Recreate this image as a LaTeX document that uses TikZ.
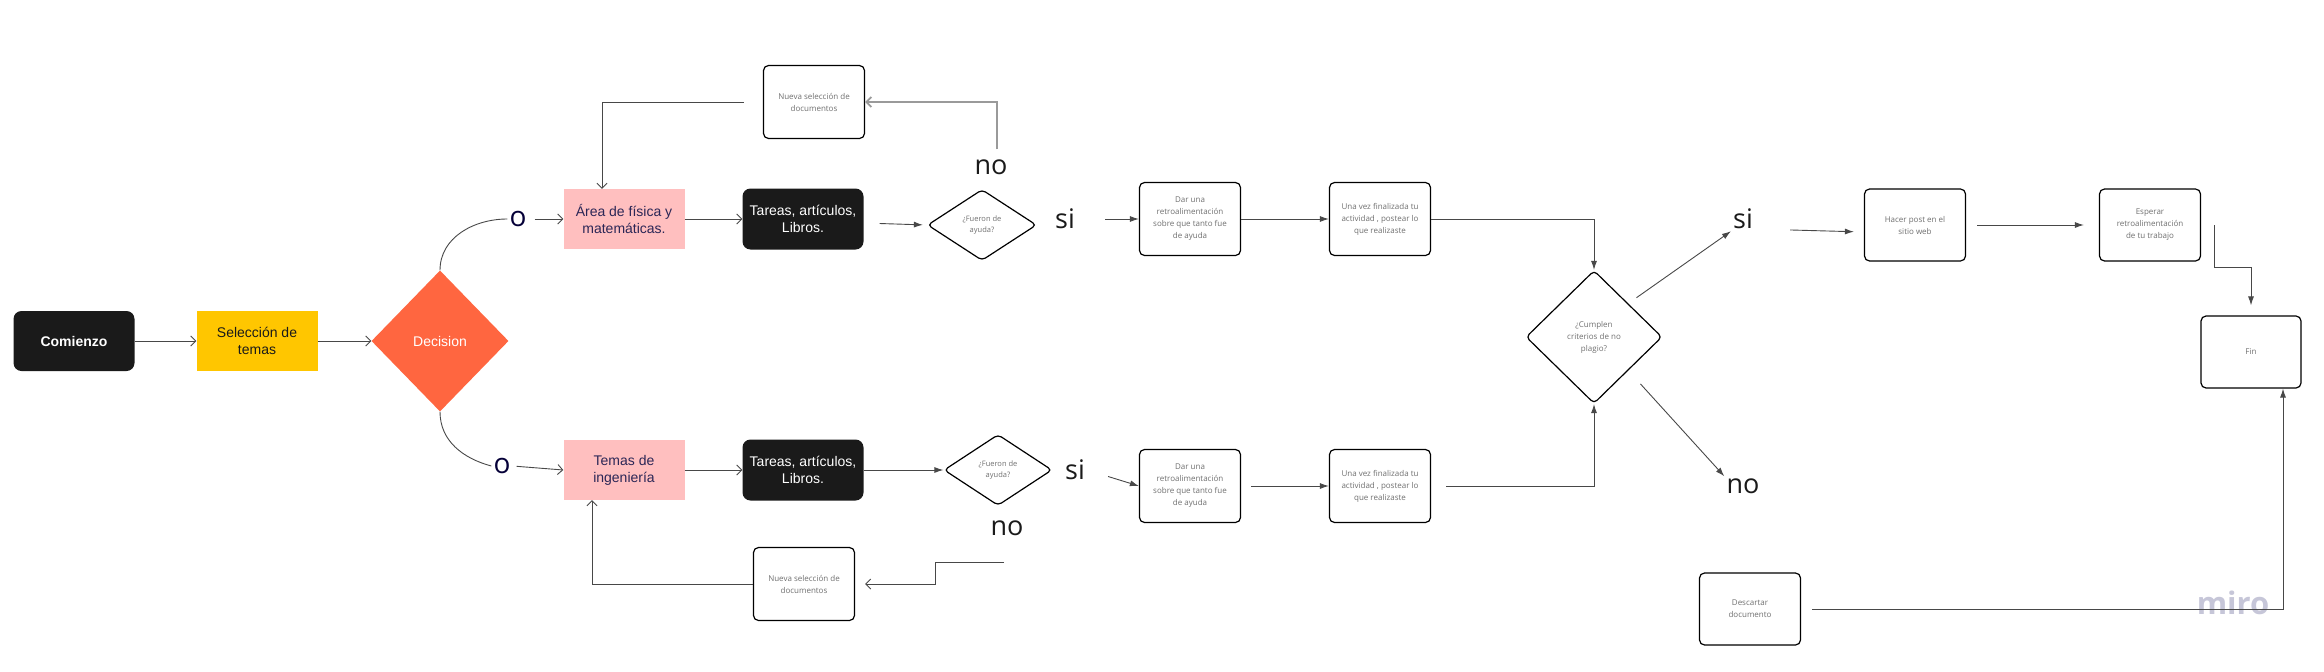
\documentclass[tikz,border=0pt]{standalone}
\usepackage{fontspec}
\setmainfont{Liberation Sans}
\newfontfamily\opensans{Open Sans}
\usetikzlibrary{shapes.geometric, arrows.meta, positioning}

\definecolor{ink}{HTML}{1A1A1A}
\definecolor{amber}{HTML}{FFC600}
\definecolor{coral}{HTML}{FF6640}
\definecolor{rose}{HTML}{FFBFBF}
\definecolor{navy}{HTML}{050038}
\definecolor{wire}{HTML}{484848}
\definecolor{faint}{HTML}{707070}
\definecolor{greyline}{HTML}{9A9A9A}
\definecolor{mirogray}{HTML}{C6C6D8}

\tikzset{
  darkbox/.style={fill=ink, rounded corners=8pt, text=white, minimum width=121pt, minimum height=60pt, align=center, font=\fontsize{14}{17}\selectfont},
  flatbox/.style={minimum width=121pt, minimum height=60pt, align=center, font=\fontsize{14}{17}\selectfont},
  notebox/.style={draw=black, line width=1.2pt, rounded corners=5pt, fill=white, minimum width=101pt, minimum height=73pt, align=center, text=faint, font=\opensans\fontsize{8}{12}\selectfont},
  askbox/.style={diamond, draw=black, line width=1.2pt, rounded corners=4pt, inner sep=0pt, align=center, text=faint, font=\opensans\fontsize{7.5}{11}\selectfont},
  bigword/.style={font=\opensans\fontsize{27}{30}\selectfont, text=ink, inner sep=2pt},
  orword/.style={font=\opensans\fontsize{28}{30}\selectfont, text=navy, inner sep=2pt},
  opentip/.style={draw=wire, line width=0.9pt, -{Straight Barb[length=5pt,width=10pt]}},
  arr/.style={draw=wire, line width=0.9pt, -{Latex[length=9pt,width=6pt]}},
  bare/.style={draw=wire, line width=0.9pt},
}

\begin{document}
\begin{tikzpicture}[x=1pt, y=-1pt]
  \useasboundingbox (0,0) rectangle (2324,672);

  % start and choice
  \node[darkbox, font=\bfseries\fontsize{14}{17}\selectfont] (com) at (74,341) {Comienzo};
  \node[flatbox, fill=amber, text=ink] (sel) at (257,341) {Selección de\\temas};
  \node[diamond, fill=coral, text=white, inner sep=0pt, minimum width=137pt, minimum height=141pt, font=\fontsize{14}{17}\selectfont] (dec) at (440,341) {Decision};

  \node[orword] (oA) at (518,219) {o};
  \node[orword] (oB) at (502,466) {o};
  \node[flatbox, fill=rose, text=navy!85] (area) at (624,219) {Área de física y\\matemáticas.};
  \node[flatbox, fill=rose, text=navy!85] (tem) at (624,470) {Temas de\\ingeniería};
  \node[darkbox, minimum height=61pt] (tarA) at (803,219) {Tareas, artículos,\\Libros.};
  \node[darkbox, minimum height=61pt] (tarB) at (803,470) {Tareas, artículos,\\Libros.};

  % questions
  \node[askbox, minimum width=109pt, minimum height=71pt] (ayA) at (982,225) {¿Fueron de\\ayuda?};
  \node[askbox, minimum width=108pt, minimum height=71pt] (ayB) at (998,470) {¿Fueron de\\ayuda?};
  \node[bigword] (noA) at (991,167) {no};
  \node[bigword] (siA) at (1065,219) {si};
  \node[bigword] (siB) at (1075,470) {si};
  \node[bigword] (noB) at (1007,528) {no};
  \node[notebox] (nueA) at (814,102) {Nueva selección de\\documentos};
  \node[notebox] (nueB) at (804,584) {Nueva selección de\\documentos};
  \coordinate (nb) at (1004,562);

  % feedback
  \node[notebox] (darA) at (1190,219) {Dar una\\retroalimentación\\sobre que tanto fue\\de ayuda};
  \node[notebox] (darB) at (1190,486) {Dar una\\retroalimentación\\sobre que tanto fue\\de ayuda};
  \node[notebox] (unaA) at (1380,219) {Una vez finalizada tu\\actividad , postear lo\\que realizaste};
  \node[notebox] (unaB) at (1380,486) {Una vez finalizada tu\\actividad , postear lo\\que realizaste};

  % plagiarism check
  \node[askbox, minimum width=136pt, minimum height=133pt, font=\opensans\fontsize{8}{12}\selectfont] (pla) at (1594,337) {¿Cumplen\\criterios de no\\plagio?};
  \node[bigword] (siC) at (1743,219) {si};
  \node[bigword] (noC) at (1743,486) {no};
  \node[notebox, minimum height=72pt] (post) at (1915,225) {Hacer post en el\\sitio web};
  \node[notebox, minimum height=72pt] (esp) at (2150,225) {Esperar\\retroalimentación\\de tu trabajo};
  \node[notebox, minimum width=100pt, minimum height=72pt] (fin) at (2251,352) {Fin};
  \node[notebox, minimum height=72pt] (des) at (1750,609) {Descartar\\documento};
  \node[font=\opensans\bfseries\fontsize{31}{31}\selectfont, text=mirogray] (wm) at (2233,603) {miro};

  % connectors
  \draw[opentip] (com) -- (sel);
  \draw[opentip] (sel) -- (dec);
  \draw[bare] (dec.north) to[out=90, in=180] (oA.west);
  \draw[bare] (dec.south) to[out=-90, in=165] (oB.west);
  \draw[opentip, shorten <=6pt] (oA.east) -- (area.west);
  \draw[opentip, shorten <=4pt] (oB.east) -- (tem.west);
  \draw[opentip] (area) -- (tarA);
  \draw[opentip] (tem) -- (tarB);
  \draw[arr, shorten <=16pt, shorten >=4pt] ([yshift=-4pt]tarA.east) -- (ayA.west);
  \draw[arr] (tarB.east) -- (ayB.west);
  \draw[opentip, draw=greyline, line width=1.8pt, shorten <=8pt] ([xshift=6pt]noA.north) |- (nueA.east);
  \draw[opentip, shorten <=19pt] (nueA.west) -| ([xshift=-22pt]area.north);
  \draw[opentip] (nb) -- ++(-69,0) |- ([xshift=10pt]nueB.east);
  \draw[opentip] (nueB.west) -| ([xshift=-32pt]tem.south);
  \draw[arr, shorten <=28pt] (siA.east) -- (darA.west);
  \draw[arr, shorten <=22pt] (siB.east) -- (darB.west);
  \draw[arr] (darA) -- (unaA);
  \draw[arr, shorten <=10pt] (darB.east) -- (unaB.west);
  \draw[arr] (unaA.east) -| (pla.north);
  \draw[arr, shorten <=15pt] (unaB.east) -| (pla.south);
  \draw[arr, shorten <=10pt] (pla.north east) -- (siC.south west);
  \draw[arr, shorten <=18pt] (pla.south east) -- (noC.north west);
  \draw[arr, shorten <=35pt, shorten >=10pt] ([yshift=-10pt]siC.east) -- ([yshift=-7pt]post.west);
  \draw[arr, shorten <=11pt, shorten >=15pt] (post) -- (esp);
  \draw[arr, shorten >=10pt] ([xshift=13pt]esp.east) -- ++(0,42) -| (fin.north);
  \draw[arr] ([xshift=11pt]des.east) -| ([xshift=32pt]fin.south);
\end{tikzpicture}
\end{document}
